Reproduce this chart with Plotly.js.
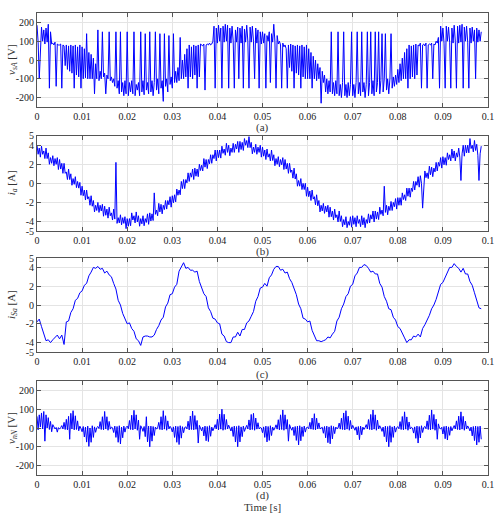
<!DOCTYPE html>
<html>
<head>
<meta charset="utf-8">
<script src="https://cdn.plot.ly/plotly-3.0.1.min.js"></script>
<style>html,body{margin:0;padding:0;background:#fff}#chart{width:496px;height:518px}</style>
</head>
<body>
<div id="chart"></div>
<script>
// time step of each record (s)
const dtFast = 0.00025;
const dtSlow = 0.0005;
const xTickVals = [0, 0.01, 0.02, 0.03, 0.04, 0.05, 0.06, 0.07, 0.08, 0.09, 0.1];
const xTickText = ["0", "0.01", "0.02", "0.03", "0.04", "0.05", "0.06", "0.07", "0.08", "0.09", "0.1"];
const vTicks = [-200, -100, 0, 100, 200];
const iTicks = [-5, -4, -2, 0, 2, 4, 5];
const captions = ["(a)", "(b)", "(c)", "(d)"];
const yTitles = ["<i>v</i><sub><i>sA</i></sub> [V]", "<i>i</i><sub><i>a</i></sub> [A]", "<i>i</i><sub><i>Sa</i></sub> [A]", "<i>v</i><sub><i>nN</i></sub> [V]"];

// (a) v_sA [V], step dtFast
const vsA = [
185,95,-100,90,175,100,160,85,170,95,
190,-150,150,85,90,80,95,-140,85,80,
80,85,-150,80,75,-30,80,-50,75,-60,
80,-70,75,-150,80,-80,70,-90,80,-150,
70,-100,60,-95,140,-100,40,-100,30,-100,
10,-180,-20,-100,160,-110,-60,-100,150,-90,
-70,-180,-80,-100,150,-110,-90,-120,-100,-140,
150,-150,-110,-180,150,-170,-120,-190,-110,-180,
150,-190,-120,-170,-110,-180,150,-190,-130,-160,
-120,-190,150,-170,-110,-185,140,-160,-120,-180,
150,-170,-110,-190,-120,150,-160,-100,-180,140,
-150,-110,-220,140,-140,-100,-170,130,-130,-90,
-150,140,-120,-60,-120,-40,-110,120,-100,0,
-100,30,-90,60,-150,80,-90,70,-100,80,
-80,75,-150,80,-90,85,80,75,85,-160,
80,85,80,90,80,85,100,180,-150,170,
90,185,100,170,-150,180,95,190,100,185,
-150,170,90,180,100,-150,160,95,175,-100,
170,90,180,-150,165,95,185,100,-150,175,
95,180,100,-100,170,90,160,-150,150,85,
150,90,140,-150,130,100,150,-120,140,95,
190,100,-150,130,85,100,80,-150,90,70,
80,60,-150,80,-40,85,-60,80,-150,75,
-70,80,-80,75,-150,80,-90,70,-100,80,
-100,60,-100,40,-150,20,-100,0,-110,-20,
-100,-40,-230,-60,-120,-80,-170,-100,-180,-110,
-170,150,-180,-120,-190,-110,-180,150,-190,-130,
-200,-120,150,-190,-130,-200,-120,-190,-130,150,
-190,-130,-200,-120,150,-180,-120,-190,150,-170,
-120,-200,-130,150,-190,-120,150,-180,-110,-190,
150,-170,-120,150,-180,-110,140,-170,-100,140,
-160,-100,-180,-100,140,-150,-90,-140,-80,-130,
-50,-120,-20,-110,10,-100,40,-100,60,-150,
80,-100,75,-90,80,-100,85,-80,80,75,
90,-150,80,85,75,90,-150,80,85,80,
90,-100,85,80,100,90,120,-150,180,100,
170,90,-150,180,100,175,95,-150,170,90,
185,100,-150,180,90,185,95,190,-150,175,
100,180,95,-150,170,90,175,100,160,-100,
170,95,160,100,150
];

// (b) i_a [A], step dtFast
const ia = [
4.0,3.05,3.7,2.75,3.9,3.05,3.4,2.6,3.7,2.6,
3.2,2.0,2.7,2.1,2.9,1.85,2.6,2.0,2.7,1.45,
2.5,1.5,2.1,1.05,2.1,1.05,1.2,0.4,1.5,0.4,
1.0,-0.2,0.5,-0.1,0.7,-0.45,0.2,-0.5,0.1,-1.25,
-0.3,-1.3,-0.7,-1.75,-0.7,-1.65,-1.4,-2.3,-1.3,-2.4,
-1.8,-3.0,-2.3,-2.85,-2.0,-3.05,-2.3,-2.9,-2.2,-3.45,
-2.4,-3.35,-2.7,-3.65,-2.5,-3.4,-3.1,-3.85,-2.7,-3.75,
2.2,-4.2,-3.6,-4.15,-3.3,-4.35,-3.6,-4.2,-3.5,-4.75,
-3.7,-4.5,-3.7,-4.45,-3.1,-3.85,-3.4,-4.15,-3.0,-4.05,
-3.4,-4.5,-3.7,-4.25,-3.4,-4.45,-3.7,-4.1,-3.2,-4.3,
-3.1,-3.95,-3.2,-3.9,-1.0,-3.25,-2.8,-3.4,-2.1,-3.0,
-2.2,-3.2,-2.3,-2.75,-1.8,-2.7,-1.8,-2.25,-1.4,-2.5,
-1.3,-2.05,-1.2,-1.95,-0.6,-1.25,-0.7,-1.2,0.2,-0.55,
0.4,-0.55,0.4,0.05,1.1,0.2,1.1,0.65,1.5,0.4,
1.6,0.75,1.5,0.7,2.0,1.35,1.9,1.3,2.6,1.7,
2.5,1.55,2.5,2.05,3.0,2.1,3.0,2.6,3.5,2.35,
3.5,2.7,3.5,2.65,3.9,3.15,3.6,2.95,4.2,3.25,
4.0,2.9,3.7,3.25,4.2,3.25,4.1,3.6,4.4,3.25,
4.4,3.55,4.3,3.45,4.7,4.0,4.5,3.75,4.9,3.75,
4.3,3.1,3.8,3.25,4.1,3.05,3.8,3.25,4.0,2.75,
3.8,2.85,3.5,2.5,3.6,2.75,3.1,2.35,3.5,2.4,
3.0,1.85,2.6,2.0,2.8,1.75,2.5,1.95,2.7,1.45,
2.5,1.5,2.1,1.05,2.1,1.15,1.4,0.55,1.6,0.45,
1.0,-0.3,0.3,-0.3,0.5,-0.65,0.0,-0.65,0.0,-1.35,
-0.4,-1.4,-0.8,-1.8,-0.7,-1.65,-1.4,-2.25,-1.2,-2.35,
-1.8,-3.0,-2.3,-2.9,-2.1,-3.15,-2.4,-3.0,-2.3,-3.55,
-2.5,-3.5,-2.9,-3.85,-2.7,-3.6,-3.3,-4.05,-2.9,-4.0,
-3.4,-4.55,-3.8,-4.35,-3.5,-4.65,-4.0,-4.4,-3.5,-4.6,
-3.4,-4.3,-3.6,-4.55,-3.4,-4.2,-3.8,-4.55,-3.4,-4.35,
-3.6,-4.65,-3.8,-4.2,-3.2,-4.15,-3.3,-3.75,-2.9,-4.05,
-2.9,-3.75,-3.0,-3.8,-2.5,-3.25,-2.8,-3.4,-0.3,-3.05,
-2.3,-3.3,-2.4,-2.85,-1.9,-2.85,-2.0,-2.45,-1.6,-2.7,
-1.5,-2.3,-1.5,-2.3,-1.0,-1.7,-1.2,-1.8,-0.5,-1.35,
-0.5,-1.45,-0.5,-0.85,0.2,-0.7,0.2,-0.2,0.7,-0.4,
0.8,0.0,-2.6,0.0,1.3,0.6,1.1,0.5,1.8,0.9,
1.7,0.7,1.6,1.2,2.2,1.3,2.2,1.8,2.7,1.6,
2.8,1.95,2.7,1.9,3.2,2.5,3.0,2.35,3.6,2.65,
3.4,2.35,3.2,2.75,3.7,2.75,0.3,3.1,4.0,2.85,
4.0,3.2,4.0,3.2,4.7,3.65,4.0,3.3,4.5,3.45,
4.1,2.95,0.3,3.1,3.9
];

// (c) i_Sa [A], step dtSlow
const iSa = [
-1.8,-1.5,-2.3,-3.0,-3.8,-3.7,-4.0,-3.7,-3.5,-3.2,
-3.6,-3.2,-4.2,-1.8,-1.7,-0.8,-0.4,0.5,0.7,1.3,
1.5,2.1,2.3,3.1,3.5,4.0,3.9,4.1,3.8,3.9,
3.4,3.6,3.2,3.0,2.3,1.7,0.5,0.0,-0.9,-1.4,
-2.0,-1.9,-2.5,-2.8,-3.6,-3.8,-4.3,-3.4,-3.3,-3.3,
-3.4,-3.4,-3.2,-2.6,-2.2,-1.6,-1.3,-0.2,0.2,1.1,
1.2,1.9,2.2,3.6,4.1,4.5,3.9,4.0,3.7,3.7,
3.5,3.6,2.5,1.9,1.2,0.9,-0.3,-0.7,-1.4,-1.5,
-1.9,-2.0,-3.1,-3.3,-3.9,-4.0,-4.0,-3.4,-3.4,-2.9,
-3.3,-2.6,-2.6,-1.9,-1.7,-1.2,-0.7,0.4,0.9,1.8,
1.9,2.3,2.0,2.9,3.2,3.8,4.1,4.1,3.7,3.8,
3.4,3.5,2.8,2.4,1.8,1.1,0.1,-0.4,-1.4,-1.5,
-1.8,-1.7,-2.7,-3.3,-3.8,-3.8,-3.9,-3.8,-3.7,-3.4,
-3.5,-3.1,-2.8,-1.7,-1.3,-0.4,0.1,0.9,1.2,2.0,
2.2,3.1,3.4,4.0,4.0,4.3,4.2,3.9,3.5,3.6,
3.3,3.3,2.3,1.9,0.9,0.4,-0.4,-0.5,-1.3,-1.6,
-2.3,-2.5,-3.1,-3.5,-4.0,-3.7,-3.7,-3.3,-3.4,-3.1,
-3.4,-2.5,-2.1,-1.6,-1.1,-0.4,0.0,0.6,1.3,2.2,
2.4,2.9,3.4,4.0,4.0,4.4,4.1,3.9,3.5,3.9,
3.3,3.3,2.5,2.1,1.3,0.6,-0.3,-0.4
];

// (d) v_nN [V], step dtFast
const vnN = [
62,-10,70,5,80,-5,88,-70,70,0,
55,-8,35,-20,18,5,-5,3,-22,2,
-6,2,13,-5,30,-8,46,-10,62,-60,
78,-5,92,-10,65,-8,38,-15,10,-3,
-20,8,-48,5,-75,10,-98,0,-76,12,
-50,6,-23,2,8,-3,34,-8,60,-10,
88,-5,60,-12,35,-6,6,0,-24,10,
-50,8,-76,12,-85,5,-52,10,-22,3,
10,-4,40,-8,68,-10,94,-5,70,-12,
42,-60,12,0,-18,8,-46,60,-74,10,
-100,10,-70,8,-40,5,-6,0,30,-8,
60,-10,92,-6,65,-12,38,-5,9,0,
-21,6,-50,10,-76,8,-88,12,-54,7,
-25,3,6,-5,36,-10,64,-8,90,-10,
66,-7,40,-80,14,0,-15,5,-42,10,
-68,8,-72,12,-44,5,-15,0,18,-5,
46,-10,74,-6,100,-12,73,-8,45,-5,
15,0,-16,6,-45,10,-74,8,-100,12,
-74,6,-46,10,-18,0,14,-5,43,-10,
72,-8,78,-12,53,-6,28,-5,3,0,
-25,6,-50,10,-74,8,-66,12,-40,5,
-12,0,17,-6,44,-10,70,-8,96,-12,
70,-6,45,-70,18,0,-12,5,-40,8,
-66,10,-90,12,-68,6,-45,10,-22,2,
5,-4,30,-6,53,-8,76,-10,52,-5,
27,-5,0,4,-28,8,-52,10,-78,6,
-84,12,-58,8,-30,5,-4,0,26,-6,
52,-8,80,-10,92,-6,63,-12,40,-5,
14,0,-12,6,-37,8,-62,10,-36,5,
-8,2,18,-5,45,-8,72,-10,96,-6,
70,-12,42,-5,12,0,-18,5,-46,10,
-74,8,-100,12,-76,6,-50,10,-22,2,
7,-4,34,-8,61,-10,86,-6,59,-12,
32,-5,4,0,-27,6,-55,10,-80,8,
-53,12,-24,3,8,-4,38,-8,68,-10,
96,-6,72,-12,47,-60,22,0,-6,4,
-32,8,-57,10,-64,6,-39,8,-15,0,
13,-5,38,-8,63,-10,86,-6,62,-12,
37,-5,11,0,-16,5,-42,8,-67,10,
-90,8,-76,10,-60
];

const series = [
  {y: vsA, dx: dtFast, ticks: vTicks, range: [-250, 250]},
  {y: ia,  dx: dtFast, ticks: iTicks, range: [-5, 5]},
  {y: iSa, dx: dtSlow, ticks: iTicks, range: [-5, 5]},
  {y: vnN, dx: dtFast, ticks: vTicks, range: [-250, 250]}
];

// panel geometry (paper fractions)
const W = 496, H = 518;
const xDom = [37 / W, 488 / W];
const yPix = [[13, 107], [135.7, 231], [258, 352], [381, 475]];
const captionY = [128, 251, 374, 495];
const font = "Liberation Serif, Times New Roman, serif";

const traces = [];
const layout = {
  width: W, height: H,
  margin: {l: 0, r: 0, t: 0, b: 0},
  paper_bgcolor: "#fff", plot_bgcolor: "#fff",
  showlegend: false,
  font: {family: font, size: 10, color: "#222"},
  annotations: []
};

series.forEach((s, k) => {
  const n = k + 1;
  const xa = n === 1 ? "x" : "x" + n;
  const ya = n === 1 ? "y" : "y" + n;
  traces.push({
    type: "scatter", mode: "lines",
    x0: 0, dx: s.dx, y: s.y,
    xaxis: xa, yaxis: ya,
    line: {color: "#0000ff", width: 1},
    hoverinfo: "skip"
  });
  const axCommon = {
    showline: true, linecolor: "#555", linewidth: 1, mirror: "ticks",
    ticks: "inside", ticklen: 4, tickcolor: "#555",
    showgrid: true, gridcolor: "#e4e4e4", gridwidth: 1,
    zeroline: false,
    tickfont: {family: font, size: 10, color: "#222"}
  };
  layout["xaxis" + (n === 1 ? "" : n)] = Object.assign({}, axCommon, {
    domain: xDom, anchor: ya, range: [0, 0.1],
    tickmode: "array", tickvals: xTickVals, ticktext: xTickText
  });
  layout["yaxis" + (n === 1 ? "" : n)] = Object.assign({}, axCommon, {
    domain: [1 - yPix[k][1] / H, 1 - yPix[k][0] / H], anchor: xa,
    range: s.range, tickmode: "array", tickvals: s.ticks,
    ticktext: s.ticks.map(String)
  });
  layout.annotations.push({
    text: captions[k], xref: "paper", yref: "paper",
    x: (xDom[0] + xDom[1]) / 2, y: 1 - captionY[k] / H,
    xanchor: "center", yanchor: "middle", showarrow: false,
    font: {family: font, size: 11, color: "#333"}
  });
  layout.annotations.push({
    text: yTitles[k], xref: "paper", yref: "paper",
    x: 12 / W, y: 1 - (yPix[k][0] + yPix[k][1]) / 2 / H,
    xanchor: "center", yanchor: "middle", textangle: -90, showarrow: false,
    font: {family: font, size: 11, color: "#333"}
  });
});

layout.annotations.push({
  text: "Time [s]", xref: "paper", yref: "paper",
  x: (xDom[0] + xDom[1]) / 2, y: 1 - 507 / H,
  xanchor: "center", yanchor: "middle", showarrow: false,
  font: {family: font, size: 11, color: "#333"}
});

Plotly.newPlot("chart", traces, layout, {staticPlot: true, displayModeBar: false});
</script>
</body>
</html>
